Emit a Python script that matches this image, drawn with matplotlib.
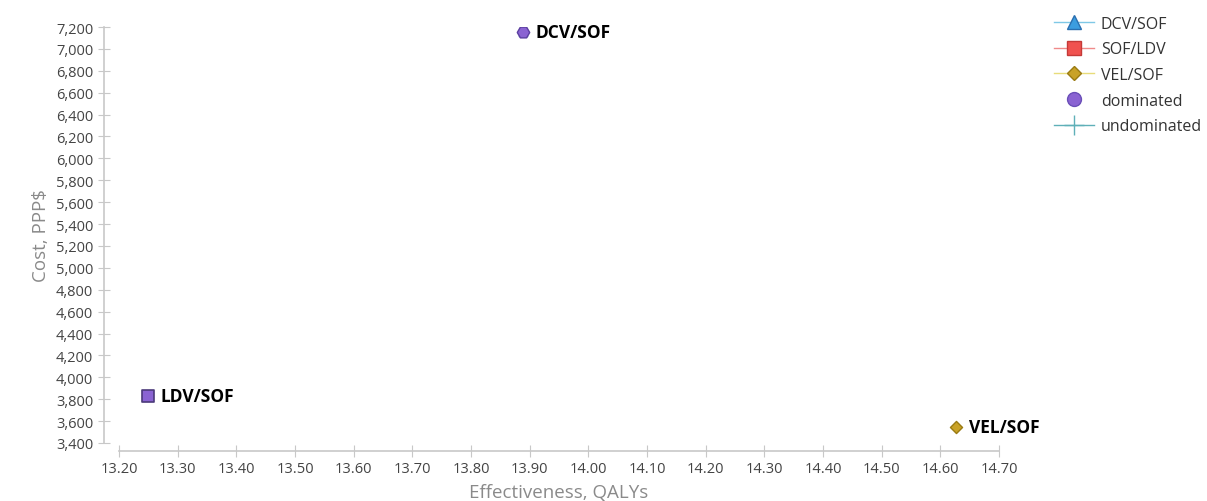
import matplotlib.pyplot as plt
from matplotlib.lines import Line2D

plt.rcParams['font.family'] = ['Open Sans', 'DejaVu Sans']

# strategies
names = ["DCV/SOF", "LDV/SOF", "VEL/SOF"]
qalys = [13.888, 13.249, 14.627]
costs = [7150, 3830, 3550]

xticks = [13.20 + 0.1 * i for i in range(16)]
yticks = list(range(3400, 7201, 200))

fig = plt.figure(figsize=(12.07, 5.02), dpi=100)
ax = fig.add_axes([119 / 1207, 1 - 444 / 502, (999 - 119) / 1207, (444 - 28) / 502])

# DCV/SOF: dominated point (triangle under purple dot)
ax.scatter(qalys[0], costs[0], marker="^", s=35, color="#3b9de0", edgecolor="#2a6fb0", zorder=3)
ax.scatter(qalys[0], costs[0], marker="H", s=80, color="#8a63d2", edgecolor="#5b3fa0", zorder=4)
# LDV/SOF: square marked dominated
ax.scatter(qalys[1], costs[1], marker="s", s=75, color="#8a63d2", edgecolor="#4b3a7a", linewidth=1.2, zorder=4)
# VEL/SOF
ax.scatter(qalys[2], costs[2], marker="D", s=38, color="#c9a227", edgecolor="#9a7b12", zorder=4)

for x, y, n in zip(qalys, costs, names):
    ax.annotate(n, (x, y), xytext=(9, 0), textcoords="offset points",
                fontsize=12.5, fontweight="bold", va="center", color="black")

ax.set_xlim(13.2, 14.7)
ax.set_ylim(3400, 7200)
ax.set_xticks(xticks)
ax.set_xticklabels(["%.2f" % t for t in xticks])
ax.set_yticks(yticks)
ax.set_yticklabels(["{:,}".format(t) for t in yticks])

for s in ["top", "right"]:
    ax.spines[s].set_visible(False)
ax.spines["left"].set_position(("outward", 11))
ax.spines["bottom"].set_position(("outward", 6))
for s in ["left", "bottom"]:
    ax.spines[s].set_color("#c8c8c8")
    ax.spines[s].set_linewidth(1.2)
ax.tick_params(direction="inout", length=8, color="#c8c8c8", labelsize=10.5, labelcolor="#444444")
ax.tick_params(axis="x", pad=3)

ax.set_xlabel("Effectiveness, QALYs", fontsize=13.5, color="#8a8a8a", labelpad=5)
ax.set_ylabel("Cost, PPP$", fontsize=13.5, color="#8a8a8a", labelpad=4)

handles = [
    Line2D([], [], color="#7fc8e6", lw=1, marker="^", ms=10, mfc="#3b9de0", mec="#2a6fb0"),
    Line2D([], [], color="#f08a8a", lw=1, marker="s", ms=10, mfc="#f0524f", mec="#c43a38"),
    Line2D([], [], color="#e8dc7a", lw=1, marker="D", ms=7, mfc="#c9a227", mec="#9a7b12"),
    Line2D([], [], color="none", marker="o", ms=10, mfc="#8a63d2", mec="#6a4fb8"),
    Line2D([], [], color="#5fb0b8", lw=1, marker="+", ms=14, mec="#5fb0b8"),
]
labels = ["DCV/SOF", "SOF/LDV", "VEL/SOF", "dominated", "undominated"]
fig.legend(handles, labels, loc="upper left", bbox_to_anchor=(1040 / 1207, 0.995),
           frameon=False, fontsize=11.5, handlelength=2.5, labelspacing=0.6,
           handletextpad=0.4, labelcolor="#333333")

fig.savefig("out.png", dpi=100)
